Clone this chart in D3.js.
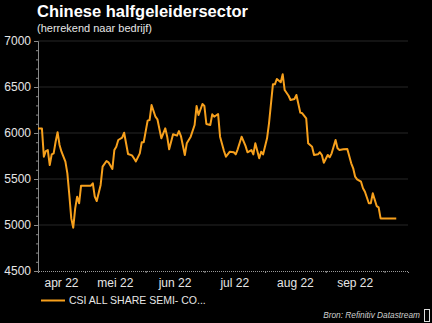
<!DOCTYPE html>
<html><head><meta charset="utf-8">
<script src="https://cdn.jsdelivr.net/npm/d3@7"></script>
<style>html,body{margin:0;padding:0;background:#000;}svg{display:block;}</style>
</head><body>
<script>
const dates = ["2022-04-07","2022-04-09","2022-04-10","2022-04-11","2022-04-12","2022-04-13","2022-04-14","2022-04-15","2022-04-16","2022-04-17","2022-04-18","2022-04-19","2022-04-21","2022-04-22","2022-04-23","2022-04-24","2022-04-25","2022-04-26","2022-04-27","2022-04-28","2022-04-29","2022-05-01","2022-05-04","2022-05-05","2022-05-06","2022-05-07","2022-05-09","2022-05-10","2022-05-12","2022-05-13","2022-05-15","2022-05-16","2022-05-17","2022-05-18","2022-05-20","2022-05-21","2022-05-23","2022-05-25","2022-05-26","2022-05-27","2022-05-29","2022-05-30","2022-05-31","2022-06-02","2022-06-03","2022-06-04","2022-06-06","2022-06-07","2022-06-09","2022-06-11","2022-06-12","2022-06-13","2022-06-15","2022-06-17","2022-06-18","2022-06-19","2022-06-21","2022-06-22","2022-06-24","2022-06-26","2022-06-27","2022-06-28","2022-06-30","2022-07-01","2022-07-02","2022-07-04","2022-07-05","2022-07-06","2022-07-08","2022-07-09","2022-07-11","2022-07-12","2022-07-14","2022-07-16","2022-07-17","2022-07-18","2022-07-20","2022-07-22","2022-07-23","2022-07-25","2022-07-26","2022-07-27","2022-07-29","2022-07-30","2022-07-31","2022-08-02","2022-08-03","2022-08-05","2022-08-06","2022-08-07","2022-08-09","2022-08-10","2022-08-11","2022-08-13","2022-08-14","2022-08-16","2022-08-17","2022-08-19","2022-08-20","2022-08-22","2022-08-23","2022-08-25","2022-08-26","2022-08-28","2022-08-29","2022-08-30","2022-08-31","2022-09-02","2022-09-03","2022-09-04","2022-09-06","2022-09-07","2022-09-08","2022-09-10","2022-09-12","2022-09-14","2022-09-15","2022-09-16","2022-09-17","2022-09-19","2022-09-20","2022-09-21","2022-09-23","2022-09-24","2022-09-25","2022-09-27","2022-09-28","2022-09-29","2022-10-01","2022-10-07"];
const values = [6050,6050,5742,5804,5815,5652,5768,5779,5905,6008,5870,5797,5688,5562,5326,5072,4970,5181,5308,5236,5427,5427,5427,5453,5308,5261,5435,5634,5696,5681,5609,5815,5851,5924,5949,6003,5772,5757,5725,5692,5779,5899,5899,6134,6141,6304,6177,6149,5942,6051,5960,5823,5986,5971,6020,5967,5761,5888,5960,6087,6293,6196,6315,6293,6098,6087,6203,6177,6206,5960,5804,5742,5797,5790,5768,5823,5960,5860,5790,5815,5768,5888,5725,5797,5768,5942,6105,6529,6529,6587,6551,6638,6467,6405,6359,6370,6413,6221,6214,6160,5888,5851,5761,5768,5790,5761,5677,5761,5736,5779,5924,5834,5815,5823,5826,5671,5616,5525,5497,5471,5399,5362,5236,5236,5344,5206,5192,5072,5072,5072];
const monthLabels = ["apr 22","mei 22","jun 22","jul 22","aug 22","sep 22"];
const monthStarts = ["2022-04-01","2022-05-01","2022-06-01","2022-07-01","2022-08-01","2022-09-01","2022-10-01"];
const yTicks = [4500,5000,5500,6000,6500,7000];
const seriesName = "CSI ALL SHARE SEMI- CO...";
const title = "Chinese halfgeleidersector";
const subtitle = "(herrekend naar bedrijf)";
const source = "Bron: Refinitiv Datastream";

const W = 432, H = 323;
const parse = d3.timeParse("%Y-%m-%d");
const data = dates.map((d,i)=>({date:parse(d), value:values[i]}));
const d0 = parse("2022-04-07"), d1 = parse("2022-10-13");
const x = d3.scaleTime().domain([d0,d1]).range([38,408]);
const y = d3.scaleLinear().domain([4500,7000]).range([271,41]);

const svg = d3.select("body").append("svg").attr("width",W).attr("height",H)
  .style("font-family","'Liberation Sans', Arial, sans-serif");
svg.append("rect").attr("width",W).attr("height",H).attr("fill","#000");

// gridlines
svg.append("g").selectAll("line").data(yTicks.filter(t=>t>4500)).join("line")
  .attr("x1",38).attr("x2",408).attr("y1",d=>y(d)).attr("y2",d=>y(d))
  .attr("stroke","#262626").attr("stroke-width",1);

// y axis
const yAxis = d3.axisLeft(y).tickValues(yTicks).tickSize(4).tickPadding(3).tickFormat(d3.format("d"));
const gy = svg.append("g").attr("transform","translate(38,0)").call(yAxis);
gy.select(".domain").attr("stroke","#8a8a8a");
gy.selectAll(".tick line").attr("stroke","#8a8a8a");
gy.selectAll(".tick text").attr("fill","#e6e6e6").style("font-size","12px");
const yMinor = d3.axisLeft(y).tickValues(d3.range(4500,7001,100).filter(v=>v%500)).tickSize(2).tickFormat("");
const gm = svg.append("g").attr("transform","translate(38,0)").call(yMinor);
gm.select(".domain").remove();
gm.selectAll(".tick line").attr("stroke","#8a8a8a");

// x axis dotted
const xAxis = d3.axisBottom(x).tickValues(monthStarts.map(parse).filter(d=>d>d0&&d<d1)).tickSize(2).tickFormat("");
const gx = svg.append("g").attr("transform","translate(0,271)").call(xAxis);
gx.select(".domain").attr("stroke","#9a9a9a").attr("stroke-dasharray","1,1");
gx.selectAll(".tick line").attr("stroke","#9a9a9a");

// month labels centred on visible part of month
const ms = monthStarts.map(parse);
svg.append("g").selectAll("text").data(monthLabels).join("text")
  .attr("x",(d,i)=>{const a=ms[i]<d0?d0:ms[i]; const b=ms[i+1]>d1?d1:ms[i+1]; return (x(a)+x(b))/2;})
  .attr("y",287).attr("text-anchor","middle").attr("fill","#e6e6e6")
  .style("font-size","12px").text(d=>d);

// line
svg.append("path").datum(data)
  .attr("d",d3.line().x(d=>x(d.date)).y(d=>y(d.value)))
  .attr("fill","none").attr("stroke","#f7a01c").attr("stroke-width",2).attr("stroke-linejoin","round");

// titles
svg.append("text").attr("x",37).attr("y",17).attr("fill","#fff")
  .style("font-size","16.5px").style("font-weight","bold").text(title);
svg.append("text").attr("x",37).attr("y",31.5).attr("fill","#e6e6e6")
  .style("font-size","11px").text(subtitle);

// legend
svg.append("line").attr("x1",41).attr("x2",65).attr("y1",300.5).attr("y2",300.5)
  .attr("stroke","#f7a01c").attr("stroke-width",2);
svg.append("text").attr("x",69).attr("y",304).attr("fill","#e6e6e6")
  .style("font-size","10.5px").text(seriesName);

// source
svg.append("text").attr("x",420).attr("y",318).attr("text-anchor","end").attr("fill","#cfcfcf")
  .style("font-size","8.3px").style("font-style","italic").text(source);
svg.append("rect").attr("x",424.5).attr("y",309.5).attr("width",5).attr("height",12)
  .attr("fill","none").attr("stroke","#ddd").attr("stroke-width",1);
</script>
</body></html>
